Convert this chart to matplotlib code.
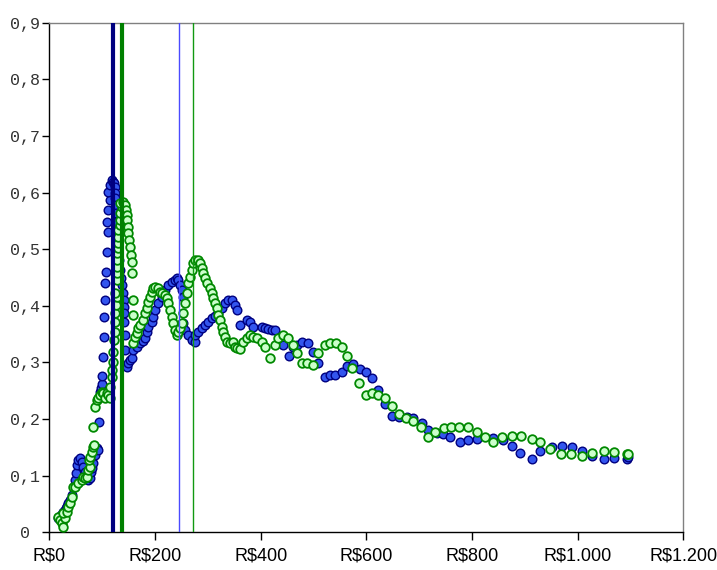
import matplotlib
matplotlib.use("Agg")
import matplotlib.pyplot as plt

# Blue series (filled markers)
blue_x = [16.5, 20.3, 24.0, 25.9, 29.7, 31.6, 33.5, 35.4, 39.2, 43.0, 46.8, 48.7, 50.5, 52.4, 54.3, 58.1,
          61.9, 63.8, 67.6, 71.4, 73.3, 77.0, 78.9, 80.8, 82.7, 86.5, 90.3, 92.2, 94.1, 96.0, 97.9, 99.8,
          99.8, 101.7, 103.5, 103.5, 105.4, 105.4, 107.3, 109.2, 111.1, 109.2, 111.1, 114.9, 111.1, 114.9,
          118.7, 120.6, 122.5, 124.4, 124.4, 124.4, 126.3, 126.3, 128.2, 128.2, 130.0, 130.0, 131.9, 133.8,
          135.7, 137.6, 139.5, 141.4, 141.4, 141.4, 141.4, 143.3, 143.3, 147.1, 149.0, 152.8, 156.5, 158.4,
          166.0, 171.7, 177.4, 181.2, 184.9, 186.8, 194.4, 196.3, 200.1, 205.8, 213.3, 219.0, 224.7, 232.3,
          238.0, 241.8, 243.6, 247.4, 251.2, 253.1, 253.1, 256.9, 262.6, 270.2, 275.8, 275.8, 281.5, 289.1,
          294.7, 300.4, 308.0, 313.7, 319.3, 326.9, 332.6, 338.3, 345.9, 351.5, 355.3, 361.0, 374.2, 379.9,
          385.6, 402.6, 408.3, 414.0, 421.6, 427.2, 442.4, 453.7, 461.3, 468.9, 478.3, 489.7, 499.2, 508.6,
          521.9, 531.3, 540.8, 554.1, 563.5, 574.9, 588.1, 599.5, 610.8, 622.2, 635.4, 648.7, 661.9, 677.1,
          688.4, 705.5, 716.8, 733.9, 745.3, 758.5, 777.4, 792.6, 809.6, 839.9, 858.8, 875.9, 891.0, 913.7,
          928.9, 951.6, 970.5, 989.5, 1008.4, 1027.3, 1050.1, 1069.0, 1093.6, 1095.5]
blue_y = [0.025, 0.029, 0.032, 0.036, 0.039, 0.043, 0.046, 0.052, 0.057, 0.066, 0.080, 0.092, 0.105, 0.119,
          0.128, 0.131, 0.124, 0.115, 0.107, 0.098, 0.092, 0.096, 0.107, 0.114, 0.122, 0.137, 0.149, 0.145,
          0.195, 0.248, 0.255, 0.262, 0.276, 0.310, 0.345, 0.380, 0.411, 0.441, 0.460, 0.495, 0.530, 0.548,
          0.569, 0.587, 0.601, 0.613, 0.622, 0.619, 0.617, 0.610, 0.599, 0.591, 0.578, 0.564, 0.548, 0.534,
          0.516, 0.499, 0.481, 0.463, 0.449, 0.437, 0.423, 0.411, 0.398, 0.387, 0.372, 0.349, 0.322, 0.292,
          0.299, 0.304, 0.308, 0.322, 0.327, 0.334, 0.338, 0.343, 0.354, 0.363, 0.372, 0.380, 0.393, 0.405,
          0.416, 0.428, 0.437, 0.442, 0.446, 0.449, 0.446, 0.437, 0.428, 0.416, 0.370, 0.357, 0.349, 0.340,
          0.336, 0.349, 0.354, 0.361, 0.366, 0.372, 0.379, 0.382, 0.387, 0.396, 0.405, 0.411, 0.411, 0.402,
          0.393, 0.366, 0.375, 0.372, 0.363, 0.363, 0.361, 0.359, 0.357, 0.357, 0.331, 0.311, 0.327, 0.331,
          0.336, 0.334, 0.318, 0.299, 0.274, 0.278, 0.278, 0.283, 0.294, 0.297, 0.289, 0.283, 0.273, 0.251,
          0.227, 0.205, 0.204, 0.204, 0.202, 0.193, 0.181, 0.175, 0.174, 0.168, 0.159, 0.163, 0.165, 0.167,
          0.163, 0.152, 0.140, 0.130, 0.144, 0.151, 0.152, 0.151, 0.144, 0.135, 0.130, 0.131, 0.130, 0.133]

# Green series (hollow light markers)
green_x = [16.5, 20.3, 24.0, 25.9, 29.7, 25.9, 33.5, 35.4, 39.2, 43.0, 44.9, 48.7, 54.3, 61.9, 63.8, 67.6,
           71.4, 73.3, 77.0, 75.2, 77.0, 80.8, 82.7, 84.6, 82.7, 86.5, 90.3, 92.2, 96.0, 99.8, 101.7, 105.4,
           109.2, 111.1, 114.9, 114.9, 118.7, 118.7, 120.6, 120.6, 122.5, 124.4, 124.4, 124.4, 126.3, 128.2,
           124.4, 128.2, 128.2, 128.2, 128.2, 128.2, 130.0, 130.0, 130.0, 130.0, 133.8, 133.8, 133.8, 137.6,
           133.8, 139.5, 143.3, 145.2, 147.1, 147.1, 149.0, 149.0, 150.9, 152.8, 154.7, 156.5, 156.5, 158.4,
           158.4, 158.4, 162.2, 166.0, 167.9, 171.7, 177.4, 181.2, 184.9, 186.8, 190.6, 194.4, 196.3, 200.1,
           205.8, 209.6, 213.3, 219.0, 222.8, 224.7, 228.5, 232.3, 234.2, 238.0, 241.8, 243.6, 247.4, 251.2,
           253.1, 256.9, 260.7, 262.6, 266.4, 270.2, 272.0, 275.8, 281.5, 285.3, 289.1, 291.0, 294.7, 298.5,
           304.2, 308.0, 309.9, 313.7, 317.5, 319.3, 323.1, 326.9, 328.8, 332.6, 336.4, 342.1, 347.7, 351.5,
           355.3, 361.0, 366.7, 374.2, 379.9, 385.6, 393.2, 402.6, 408.3, 417.8, 427.2, 432.9, 442.4, 451.9,
           461.3, 468.9, 478.3, 487.8, 499.2, 508.6, 521.9, 531.3, 542.7, 554.1, 563.5, 573.0, 586.2, 599.5,
           610.8, 622.2, 635.4, 648.7, 661.9, 675.2, 688.4, 703.6, 716.8, 730.1, 747.1, 760.4, 775.5, 792.6,
           809.6, 824.8, 839.9, 857.0, 875.9, 892.9, 913.7, 928.9, 947.8, 968.6, 987.6, 1008.4, 1027.3,
           1050.1, 1069.0, 1093.6, 1095.5]
green_y = [0.027, 0.022, 0.016, 0.009, 0.025, 0.034, 0.036, 0.045, 0.052, 0.062, 0.080, 0.080, 0.087, 0.092,
           0.098, 0.096, 0.098, 0.110, 0.115, 0.128, 0.133, 0.142, 0.151, 0.154, 0.186, 0.221, 0.234, 0.237,
           0.243, 0.248, 0.246, 0.237, 0.246, 0.243, 0.237, 0.257, 0.274, 0.287, 0.301, 0.318, 0.340, 0.354,
           0.372, 0.387, 0.402, 0.416, 0.423, 0.446, 0.458, 0.469, 0.481, 0.493, 0.502, 0.511, 0.522, 0.534,
           0.543, 0.552, 0.564, 0.575, 0.582, 0.583, 0.578, 0.569, 0.560, 0.552, 0.539, 0.529, 0.516, 0.504,
           0.490, 0.477, 0.458, 0.411, 0.384, 0.334, 0.345, 0.352, 0.361, 0.366, 0.375, 0.387, 0.396, 0.407,
           0.416, 0.425, 0.432, 0.433, 0.432, 0.425, 0.423, 0.419, 0.414, 0.405, 0.393, 0.380, 0.370, 0.357,
           0.349, 0.354, 0.361, 0.370, 0.387, 0.405, 0.423, 0.441, 0.451, 0.463, 0.476, 0.481, 0.481, 0.476,
           0.467, 0.458, 0.449, 0.441, 0.432, 0.423, 0.414, 0.405, 0.396, 0.384, 0.375, 0.363, 0.354, 0.345,
           0.336, 0.334, 0.336, 0.327, 0.325, 0.323, 0.336, 0.343, 0.349, 0.345, 0.343, 0.336, 0.327, 0.308,
           0.331, 0.343, 0.349, 0.343, 0.331, 0.317, 0.299, 0.299, 0.296, 0.317, 0.331, 0.334, 0.334, 0.327,
           0.311, 0.290, 0.264, 0.243, 0.246, 0.243, 0.237, 0.223, 0.209, 0.202, 0.197, 0.186, 0.168, 0.177,
           0.184, 0.186, 0.186, 0.186, 0.177, 0.168, 0.159, 0.168, 0.170, 0.170, 0.165, 0.159, 0.147, 0.138,
           0.138, 0.135, 0.140, 0.144, 0.142, 0.138, 0.138]

# Vertical reference lines (R$)
vline_blue_thick = 120.6
vline_green_thick = 137.6
vline_blue_thin = 245.5
vline_green_thin = 271.3

x_ticks = [0, 200, 400, 600, 800, 1000, 1200]
x_ticklabels = ["R$0", "R$200", "R$400", "R$600", "R$800", "R$1.000", "R$1.200"]
y_ticks = [0, 0.1, 0.2, 0.3, 0.4, 0.5, 0.6, 0.7, 0.8, 0.9]
y_ticklabels = ["0 ", "0,1", "0,2", "0,3", "0,4", "0,5", "0,6", "0,7", "0,8", "0,9"]

fig = plt.figure(figsize=(7.17, 5.70), dpi=100)
ax = fig.add_axes([0.0688, 0.0661, 0.953 - 0.0688, 0.960 - 0.0661])

ax.plot(blue_x, blue_y, linestyle="none", marker="o", markersize=6.2,
        markerfacecolor="#3355ee", markeredgecolor="#000080", markeredgewidth=1.0, zorder=3)
ax.plot(green_x, green_y, linestyle="none", marker="o", markersize=6.2,
        markerfacecolor="#ccffcc", markeredgecolor="#008800", markeredgewidth=1.3, zorder=4)

ax.axvline(vline_blue_thick, color="#000080", linewidth=3.0, zorder=5)
ax.axvline(vline_green_thick, color="#008000", linewidth=3.0, zorder=5)
ax.axvline(vline_blue_thin, color="#4a4aff", linewidth=1.0, zorder=5)
ax.axvline(vline_green_thin, color="#119911", linewidth=1.0, zorder=5)

ax.set_xlim(0, 1200)
ax.set_ylim(0, 0.9)
ax.set_xticks(x_ticks)
ax.set_xticklabels(x_ticklabels, fontfamily="Liberation Sans", fontsize=13)
ax.set_yticks(y_ticks)
ax.set_yticklabels(y_ticklabels, fontfamily="Liberation Mono", fontsize=12)
ax.tick_params(axis="x", direction="out", length=6, width=1, pad=5, colors="black")
ax.tick_params(axis="y", direction="out", length=5, width=1, pad=1.5, colors="black")
for lbl in ax.get_yticklabels():
    lbl.set_color("#333333")

ax.spines["left"].set_color("black")
ax.spines["bottom"].set_color("black")
ax.spines["top"].set_color("#808080")
ax.spines["right"].set_color("#808080")
for s in ax.spines.values():
    s.set_linewidth(1.0)

fig.savefig("out.png", dpi=100)
